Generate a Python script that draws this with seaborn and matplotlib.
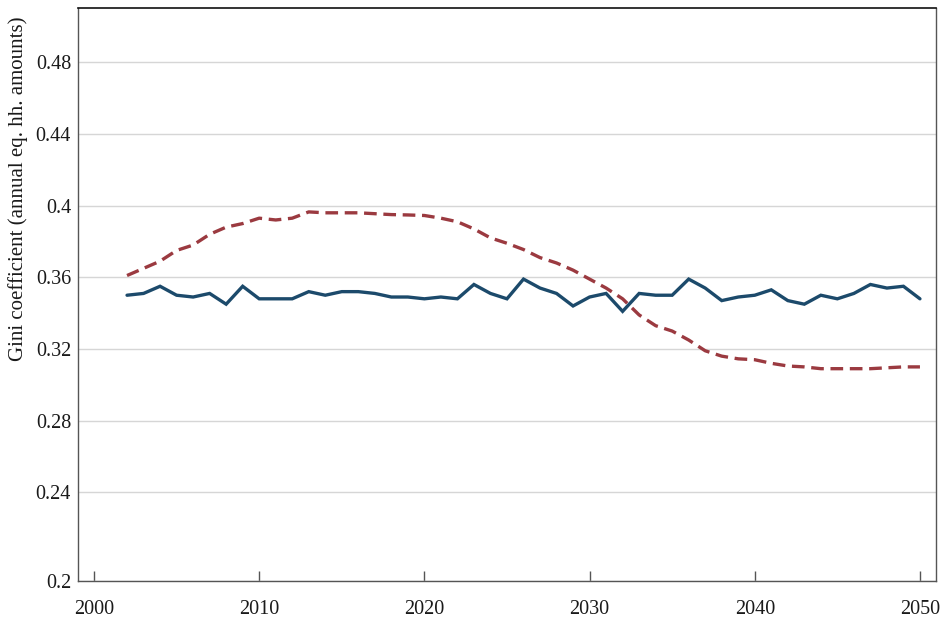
import numpy as np
import pandas as pd
import seaborn as sns
import matplotlib
matplotlib.use("Agg")
import matplotlib.pyplot as plt

# Annual Gini coefficient of equivalised household amounts, 2002-2050
years = list(range(2002, 2051))

gini_solid = [
    0.350, 0.351, 0.355, 0.350, 0.349, 0.351, 0.345, 0.355, 0.348, 0.348,
    0.348, 0.352, 0.350, 0.352, 0.352, 0.351, 0.349, 0.349, 0.348, 0.349,
    0.348, 0.356, 0.351, 0.348, 0.359, 0.354, 0.351, 0.344, 0.349, 0.351,
    0.341, 0.351, 0.350, 0.350, 0.359, 0.354, 0.347, 0.349, 0.350, 0.353,
    0.347, 0.345, 0.350, 0.348, 0.351, 0.356, 0.354, 0.355, 0.348,
]

gini_dashed = [
    0.361, 0.365, 0.369, 0.375, 0.378, 0.384, 0.388, 0.390, 0.393, 0.392,
    0.393, 0.3965, 0.396, 0.396, 0.396, 0.3955, 0.395, 0.3948, 0.3945, 0.393,
    0.391, 0.387, 0.382, 0.379, 0.3755, 0.371, 0.368, 0.364, 0.359, 0.354,
    0.348, 0.339, 0.333, 0.330, 0.325, 0.319, 0.316, 0.3145, 0.314, 0.312,
    0.3105, 0.310, 0.309, 0.309, 0.309, 0.309, 0.3095, 0.310, 0.310,
]

x_ticks = [2000, 2010, 2020, 2030, 2040, 2050]
y_ticks = [0.1905, 0.24, 0.28, 0.32, 0.36, 0.40, 0.44, 0.48]
y_tick_labels = ["0.2", "0.24", "0.28", "0.32", "0.36", "0.4", "0.44", "0.48"]

df = pd.DataFrame({"year": years, "solid": gini_solid, "dashed": gini_dashed})

sns.set_theme(style="white")
plt.rcParams["font.family"] = ["Liberation Serif", "DejaVu Serif"]

fig = plt.figure(figsize=(9.44, 6.21), dpi=100)
ax = fig.add_axes([0.0826, 0.0644, 0.9089, 0.9227])

ax.grid(axis="y", color="#d6d6d6", linewidth=1.0)
ax.set_axisbelow(True)

sns.lineplot(data=df, x="year", y="solid", ax=ax, color="#1c4a6b",
             linewidth=2.4, solid_joinstyle="miter")
sns.lineplot(data=df, x="year", y="dashed", ax=ax, color="#9b3a40",
             linewidth=2.4, dashes=(3.8, 2.0))

ax.set_xlim(1999.03, 2050.97)
ax.set_ylim(0.1905, 0.5103)
ax.set_xticks(x_ticks)
ax.set_xticklabels([str(t) for t in x_ticks])
ax.set_yticks(y_ticks)
ax.set_yticklabels(y_tick_labels)

ax.tick_params(axis="x", direction="in", length=7, width=1.0, color="#555555",
               pad=14, labelsize=14.5, labelcolor="#1a1a1a", bottom=True)
ax.tick_params(axis="y", length=0, pad=5, labelsize=14.5, labelcolor="#1a1a1a")

ax.set_xlabel("")
ax.set_ylabel("Gini coefficient (annual eq. hh. amounts)", fontsize=15,
              color="#1a1a1a")
ax.yaxis.set_label_coords(-0.058, 0.685)

for side in ["left", "bottom", "right"]:
    ax.spines[side].set_color("#555555")
    ax.spines[side].set_linewidth(1.0)
ax.spines["top"].set_color("#111111")
ax.spines["top"].set_linewidth(1.2)

fig.savefig("out.png", dpi=100, facecolor="white")
